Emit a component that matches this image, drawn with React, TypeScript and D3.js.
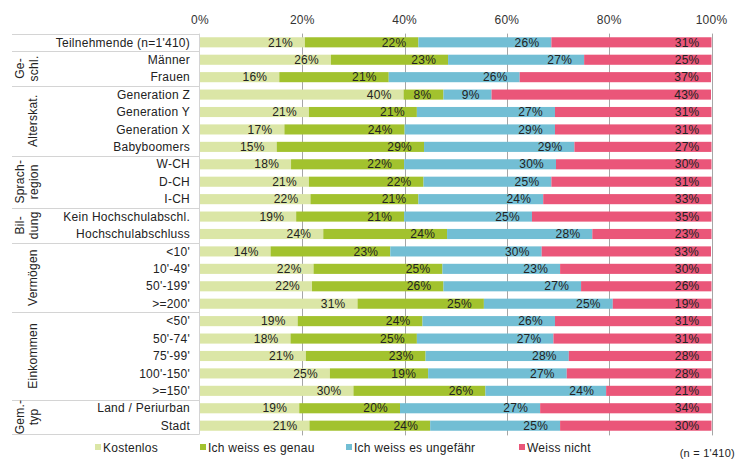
import React from "react";
import * as d3 from "d3";

const rowLabels = [
  "Teilnehmende (n=1'410)",
  "Männer", "Frauen",
  "Generation Z", "Generation Y", "Generation X", "Babyboomers",
  "W-CH", "D-CH", "I-CH",
  "Kein Hochschulabschl.", "Hochschulabschluss",
  "<10'", "10'-49'", "50'-199'", ">=200'",
  "<50'", "50'-74'", "75'-99'", "100'-150'", ">=150'",
  "Land / Periurban", "Stadt",
];

const seriesNames = ["Kostenlos", "Ich weiss es genau", "Ich weiss es ungefähr", "Weiss nicht"];

const kostenlos = [20.5, 25.6, 15.5, 39.8, 21.3, 16.5, 15.0, 17.8, 21.3, 21.6, 18.8, 24.1, 13.8, 22.2, 21.9, 30.8, 19.1, 17.7, 20.7, 25.4, 30.0, 19.4, 21.4];
const genau = [22.2, 22.9, 21.4, 7.8, 21.1, 23.5, 28.8, 22.1, 22.4, 21.1, 21.1, 24.2, 23.4, 25.2, 25.7, 24.7, 24.4, 24.7, 23.4, 19.2, 25.8, 19.7, 23.6];
const ungefaehr = [26.0, 26.6, 25.6, 9.4, 27.0, 29.4, 29.4, 29.7, 25.0, 24.4, 25.0, 28.4, 29.6, 23.0, 26.9, 25.2, 25.9, 26.7, 28.0, 27.1, 23.6, 27.4, 25.4];
const weissNicht = [31.3, 24.9, 37.4, 42.9, 30.6, 30.6, 26.8, 30.4, 31.3, 32.9, 35.1, 23.3, 33.1, 29.6, 25.5, 19.3, 30.6, 30.9, 27.9, 28.3, 20.6, 33.5, 29.6];

const groups = [
  { lines: ["Ge-", "schl."], from: 1, to: 2 },
  { lines: ["Alterskat."], from: 3, to: 6 },
  { lines: ["Sprach-", "region"], from: 7, to: 9 },
  { lines: ["Bil-", "dung"], from: 10, to: 11 },
  { lines: ["Vermögen"], from: 12, to: 15 },
  { lines: ["Einkommen"], from: 16, to: 20 },
  { lines: ["Gem.-", "typ"], from: 21, to: 22 },
];

const ticks = [0, 20, 40, 60, 80, 100];
const colors = ["#dbe6a6", "#a2c22e", "#72bed4", "#ea5679"];
const FONT = "'Liberation Sans', Arial, sans-serif";
const FS = 12;
const LS = 0.25;

export default function App() {
  const W = 750, H = 469;
  const x = d3.scaleLinear().domain([0, 100]).range([200, 711.5]);
  const y = d3.scaleBand<number>().domain(d3.range(rowLabels.length)).range([33.6, 434.4]).paddingInner(0.42).paddingOuter(0.21);
  const step = y.step();
  const series = [kostenlos, genau, ungefaehr, weissNicht];
  const stackData = rowLabels.map((_, i) => ({ k: kostenlos[i], g: genau[i], u: ungefaehr[i], w: weissNicht[i] }));
  const stacked = d3.stack<any>().keys(["k", "g", "u", "w"])(stackData);
  const sepY = (i: number) => (y(i) as number) + y.bandwidth() / 2 - step / 2; // line above row i
  const bottomY = (y(rowLabels.length - 1) as number) + y.bandwidth() / 2 + step / 2;
  const seps = [0, 1, 3, 7, 10, 12, 16, 21, 23];
  return (
    <svg width={W} height={H} style={{ display: "block", position: "absolute", left: 0, top: 0 }} fontFamily={FONT} letterSpacing={LS}>
      <rect width={W} height={H} fill="#fff" />
      {/* table lines */}
      {seps.map((i) => {
        const yy = Math.round(i < rowLabels.length ? sepY(i) : bottomY) + 0.5;
        return <line key={"s" + i} x1={12} x2={199.5} y1={yy} y2={yy} stroke="#d4d4d4" strokeWidth={1} />;
      })}
      <line x1={199.5} x2={199.5} y1={sepY(0)} y2={bottomY} stroke="#d4d4d4" />
      {/* gridlines */}
      {ticks.filter((t) => t > 0).map((t) => (
        <line key={"g" + t} x1={Math.round(x(t)) + 0.5} x2={Math.round(x(t)) + 0.5} y1={sepY(0)} y2={bottomY + 1} stroke="#a6a6a6" strokeWidth={1} />
      ))}
      {/* tick labels */}
      {ticks.map((t) => (
        <text key={"t" + t} x={x(t)} y={24} textAnchor="middle" fontSize={FS} fill="#333">{t}%</text>
      ))}
      {/* bars */}
      {stacked.map((s, si) => (
        <g key={"ser" + si}>
          {s.map((d, i) => (
            <rect key={i} x={x(d[0])} y={y(i)} width={x(d[1]) - x(d[0])} height={y.bandwidth()} fill={colors[si]} />
          ))}
        </g>
      ))}
      {/* value labels */}
      {stacked.map((s, si) => (
        <g key={"lab" + si}>
          {s.map((d, i) => (
            <text key={i} x={x(d[1]) - 12} y={(y(i) as number) + y.bandwidth() / 2 + 4.2} textAnchor="end" fontSize={FS} fill="#222">
              {Math.round(series[si][i])}%
            </text>
          ))}
        </g>
      ))}
      {/* row labels */}
      {rowLabels.map((l, i) => (
        <text key={"r" + i} x={190} y={(y(i) as number) + y.bandwidth() / 2 + 4.2} textAnchor="end" fontSize={FS} fill="#222">{l}</text>
      ))}
      {/* group labels */}
      {groups.map((g, gi) => {
        const cy = ((y(g.from) as number) + (y(g.to) as number) + y.bandwidth()) / 2;
        const xs = g.lines.length === 2 ? [20, 34] : [33];
        return g.lines.map((ln, li) => (
          <text key={"gr" + gi + li} transform={`translate(${xs[li] + 4},${cy}) rotate(-90)`} textAnchor="middle" fontSize={FS} fill="#222">{ln}</text>
        ));
      })}
      {/* legend */}
      {seriesNames.map((n, i) => {
        const lx = [95, 200, 346, 519][i];
        return (
          <g key={"lg" + i}>
            <rect x={lx} y={444} width={6} height={6} fill={colors[i]} />
            <text x={lx + 8} y={451.8} fontSize={FS} fill="#222">{n}</text>
          </g>
        );
      })}
      <text x={735} y={457} textAnchor="end" fontSize={11} fill="#222">(n = 1'410)</text>
    </svg>
  );
}
